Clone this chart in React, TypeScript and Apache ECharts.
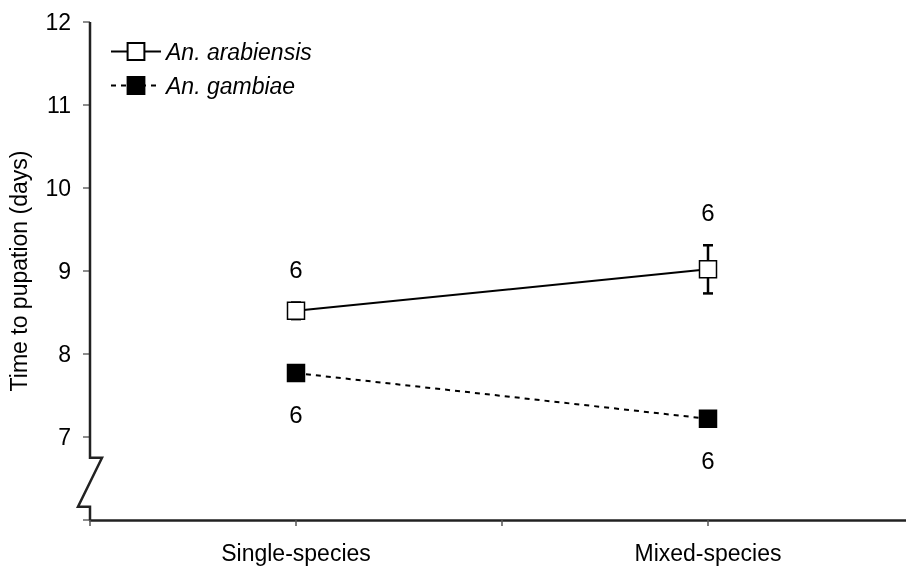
import React, { useEffect, useRef } from "react";
import * as echarts from "echarts";

const categories = ["Single-species", "Mixed-species"];
const catPositions = [1, 3];
const arabMean = [8.52, 9.02];
const arabErr = [0.1, 0.29];
const arabN = [6, 6];
const gambMean = [7.77, 7.22];
const gambErr = [0.08, 0.03];
const gambN = [6, 6];
const yTicks = [6, 7, 8, 9, 10, 11, 12];

const FONT = "Liberation Sans, Arial, sans-serif";
const FS = 23;

export default function App() {
  const ref = useRef<HTMLDivElement>(null);
  useEffect(() => {
    if (!ref.current) return;
    const chart = echarts.init(ref.current, null, { renderer: "svg" });
    const arabData = catPositions.map((x, i) => [x, arabMean[i]]);
    const gambData = catPositions.map((x, i) => [x, gambMean[i]]);
    const errData = [
      ...catPositions.map((x, i) => [x, arabMean[i], arabErr[i], arabN[i], 1]),
      ...catPositions.map((x, i) => [x, gambMean[i], gambErr[i], gambN[i], -1]),
    ];
    const half = 8.5;
    chart.setOption({
      animation: false,
      textStyle: { fontFamily: FONT },
      grid: { left: 90, top: 22, width: 824, height: 498, containLabel: false, outerBoundsMode: "none" },
      legend: {
        orient: "vertical",
        left: 105,
        top: 35,
        itemWidth: 50,
        itemHeight: 21,
        itemGap: 11,
        data: ["An. arabiensis", "An. gambiae"],
        textStyle: { fontSize: FS, fontStyle: "italic", color: "#000", fontFamily: FONT, lineHeight: 23 },
      },
      xAxis: {
        type: "value",
        min: 0,
        max: 4,
        interval: 1,
        splitLine: { show: false },
        axisLine: { show: true, lineStyle: { color: "#222", width: 2.5 } },
        axisTick: { show: true, length: 6, lineStyle: { color: "#555", width: 1.5 } },
        axisLabel: {
          margin: 21,
          fontSize: FS,
          color: "#000",
          fontFamily: FONT,
          formatter: (v: number) => {
            const i = catPositions.indexOf(v);
            return i >= 0 ? categories[i] : "";
          },
        },
      },
      yAxis: {
        type: "value",
        min: yTicks[0],
        max: yTicks[yTicks.length - 1],
        interval: 1,
        splitLine: { show: false },
        axisLine: { show: false },
        axisTick: { show: true, length: 7, lineStyle: { color: "#666", width: 1.5 } },
        axisLabel: {
          margin: 19,
          fontSize: FS,
          color: "#000",
          fontFamily: FONT,
          formatter: (v: number) => (v === yTicks[0] ? "" : String(v)),
        },
        name: "Time to pupation (days)",
        nameLocation: "middle",
        nameGap: 60,
        nameRotate: 90,
        nameTextStyle: { fontSize: FS, color: "#000", fontFamily: FONT },
      },
      series: [
        {
          type: "custom",
          name: "err",
          z: 1,
          data: errData,
          renderItem: (params: any, api: any) => {
            const x = api.value(0);
            const m = api.value(1);
            const e = api.value(2);
            const n = api.value(3);
            const dir = api.value(4);
            const top = api.coord([x, m + e]);
            const bot = api.coord([x, m - e]);
            const c = api.coord([x, m]);
            const cw = 5;
            const ls = { stroke: "#000", lineWidth: 2.5 };
            const ty = dir > 0 ? Math.min(top[1], c[1] - half) - 33 : Math.max(bot[1], c[1] + half) + 33;
            return {
              type: "group",
              children: [
                { type: "line", shape: { x1: c[0], y1: top[1], x2: c[0], y2: bot[1] }, style: ls },
                { type: "line", shape: { x1: c[0] - cw, y1: top[1], x2: c[0] + cw, y2: top[1] }, style: ls },
                { type: "line", shape: { x1: c[0] - cw, y1: bot[1], x2: c[0] + cw, y2: bot[1] }, style: ls },
                {
                  type: "text",
                  x: c[0],
                  y: ty,
                  style: { text: String(n), fill: "#000", fontSize: 24, fontFamily: FONT, align: "center", verticalAlign: "middle" },
                },
              ],
            };
          },
        },
        {
          type: "line",
          name: "An. arabiensis",
          z: 3,
          data: arabData,
          symbol: "rect",
          symbolSize: 17,
          lineStyle: { color: "#000", width: 2, type: "solid" },
          itemStyle: { color: "#fff", borderColor: "#000", borderWidth: 1.5 },
        },
        {
          type: "line",
          name: "An. gambiae",
          z: 3,
          data: gambData,
          symbol: "rect",
          symbolSize: 17,
          lineStyle: { color: "#000", width: 2, type: [5, 5] },
          itemStyle: { color: "#000", borderColor: "#000", borderWidth: 1.5 },
        },
      ],
    });
    const p = (v: number) => chart.convertToPixel({ gridIndex: 0 }, [0, v]) as number[];
    const pTop = p(12);
    const pB1 = p(6.75);
    const pB2 = p(6.16);
    const pBot = p(6);
    const x0 = pTop[0];
    chart.setOption({
      graphic: [
        {
          type: "polyline",
          z: 10,
          shape: {
            points: [
              [x0, pTop[1]],
              [x0, pB1[1]],
              [x0 + 12, pB1[1]],
              [x0 - 12, pB2[1]],
              [x0, pB2[1]],
              [x0, pBot[1]],
            ],
          },
          style: { stroke: "#222", lineWidth: 2.5, fill: null },
        },
      ],
    });
    return () => chart.dispose();
  }, []);
  return <div ref={ref} style={{ position: "fixed", left: 0, top: 0, width: 906, height: 570 }} />;
}
